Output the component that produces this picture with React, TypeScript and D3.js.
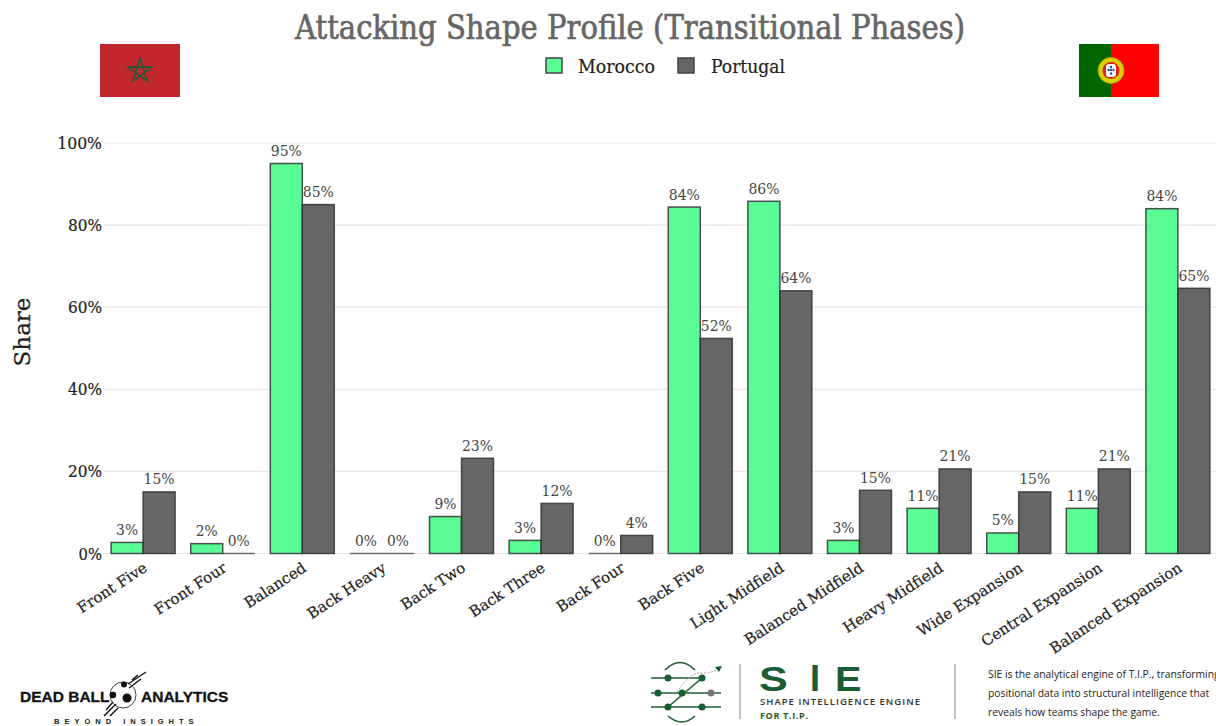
import React from "react";
import * as d3 from "d3";

const categories = ["Front Five","Front Four","Balanced","Back Heavy","Back Two","Back Three","Back Four","Back Five","Light Midfield","Balanced Midfield","Heavy Midfield","Wide Expansion","Central Expansion","Balanced Expansion"];
const morocco = [2.7,2.4,95,0,9,3.2,0,84.4,85.8,3.2,11,5,11,84];
const portugal = [15,0,85,0,23.2,12.2,4.4,52.4,64,15.4,20.6,15,20.6,64.6];
const series = [
  { name: "Morocco", values: morocco, color: "#48fd8a" },
  { name: "Portugal", values: portugal, color: "#555555" },
];
const yTicks = [0,20,40,60,80,100];
const sideNote = ["SIE is the analytical engine of T.I.P., transforming","positional data into structural intelligence that","reveals how teams shape the game."];

const SLAB = "'DejaVu Serif', serif";
const SANS = "'Open Sans', sans-serif";
const HEAVY = "'Liberation Sans', sans-serif";
const GREEN = "#1c5c34";

export default function App() {
  const W = 1216, H = 726;
  const y = d3.scaleLinear().domain([0,100]).range([553.5,143]);
  const x = d3.scaleBand().domain(categories).range([103.3,1217.7]).paddingInner(0.196).paddingOuter(0.098);
  const bw = x.bandwidth()/2;
  const star = d3.range(5).map(i => {
    const a = -Math.PI/2 + i*2*2*Math.PI/5;
    return [140+12.5*Math.cos(a), 71+12.5*Math.sin(a)];
  });
  return (
    <svg width={W} height={H} viewBox={`0 0 ${W} ${H}`} style={{position:"fixed",left:0,top:0,background:"#fff"}}>
      <text x={630} y={39} textAnchor="middle" fontFamily={SLAB} fontSize={33} fill="#666" textLength={670} lengthAdjust="spacingAndGlyphs" stroke="#666" strokeWidth={0.7}>Attacking Shape Profile (Transitional Phases)</text>

      <rect x={100} y={44} width={80} height={53} fill="#c1272d"/>
      <path d={d3.line()(star)+"Z"} fill="none" stroke="#1f5a32" strokeWidth={1.6}/>
      <rect x={1079} y={44} width={80} height={53} fill="#ff0000"/>
      <rect x={1079} y={44} width={32} height={53} fill="#006600"/>
      <circle cx={1111} cy={70.5} r={13} fill="#d8d000" stroke="#a8a400" strokeWidth={0.8}/>
      <circle cx={1111} cy={70.5} r={8.5} fill="#e02020"/>
      <rect x={1106} y={64} width={10} height={13} rx={3} fill="#fff"/>
      {[[1111,67],[1108.5,70],[1111,70],[1113.5,70],[1111,73.5]].map((p,i)=><circle key={i} cx={p[0]} cy={p[1]} r={1.2} fill="#2a4f9e"/>)}

      {series.map((s,i)=>{
        const lx = [546,678][i];
        return <g key={s.name}>
          <rect x={lx} y={58} width={16} height={15} fill={s.color} fillOpacity={0.9} stroke="#444" strokeWidth={1.5}/>
          <text x={[578,711][i]} y={72.5} fontFamily={SLAB} fontSize={18} fill="#222" stroke="#222" strokeWidth={0.2} textLength={[77,74][i]} lengthAdjust="spacingAndGlyphs">{s.name}</text>
        </g>;
      })}

      {yTicks.map(t=><g key={t}>
        <line x1={104} x2={1216} y1={y(t)} y2={y(t)} stroke="#e8e8e8" strokeWidth={1.2}/>
        <text x={102} y={y(t)+6} textAnchor="end" fontFamily={SLAB} fontSize={17} fill="#222" stroke="#222" strokeWidth={0.2} textLength={(String(t).length+1)*10.7+2} lengthAdjust="spacingAndGlyphs">{t}%</text>
      </g>)}
      <text transform={`translate(30,332) rotate(-90)`} textAnchor="middle" fontFamily={SLAB} fontSize={23} fill="#222" stroke="#222" strokeWidth={0.3}>Share</text>

      {series.map((s,si)=>s.values.map((v,i)=>{
        const bx = x(categories[i])!+si*bw;
        return <g key={s.name+i}>
          {v > 0
            ? <rect x={bx} y={y(v)} width={bw} height={y(0)-y(v)} fill={s.color} fillOpacity={0.9} stroke="#333" strokeOpacity={0.85} strokeWidth={1.5}/>
            : <line x1={bx} x2={bx+bw} y1={y(0)} y2={y(0)} stroke="#333" strokeOpacity={0.7} strokeWidth={1.3}/>}
          <text x={bx+bw/2} y={y(v)-7.5} textAnchor="middle" fontFamily={SLAB} fontSize={14.5} fill="#444" textLength={String(Math.round(v)).length*9+13} lengthAdjust="spacingAndGlyphs">{d3.format(".0f")(v)}%</text>
        </g>;
      }))}

      {categories.map(c=>{
        const cx = x(c)!+x.bandwidth()/2-1;
        return <text key={c} transform={`translate(${cx},561) rotate(-33)`} textAnchor="end" dominantBaseline="hanging" fontFamily={SLAB} fontSize={15} fill="#222" stroke="#222" strokeWidth={0.2}>{c}</text>;
      })}

      <text x={20} y={702} fontFamily={HEAVY} fontWeight={700} fontSize={15.5} fill="#111" stroke="#111" strokeWidth={0.3}>DEAD BALL</text>
      <text x={141} y={702} fontFamily={HEAVY} fontWeight={700} fontSize={15.5} fill="#111" stroke="#111" strokeWidth={0.3}>ANALYTICS</text>
      <circle cx={123} cy={695} r={13} fill="#fff" stroke="#444"/>
      <circle cx={127} cy={698} r={4.5} fill="#111"/><circle cx={113} cy={695} r={3.2} fill="#111"/><circle cx={124} cy={684.5} r={3} fill="#111"/>
      {[[104,716,116,704],[110,716,118,708],[113,702,106,710],[128,684,146,672],[129,688,141,679],[132,680,138,675]].map((l,i)=><line key={i} x1={l[0]} y1={l[1]} x2={l[2]} y2={l[3]} stroke="#111" strokeWidth={1.4}/>)}
      <text x={54} y={724} fontFamily={HEAVY} fontWeight={700} fontSize={7.5} letterSpacing={5} fill="#222">BEYOND INSIGHTS</text>

      <g stroke={GREEN} strokeWidth={1.6} fill="none">
        {[678,693,707].map((ly,i)=><line key={i} x1={651} x2={[702,721,721][i]} y1={ly} y2={ly}/>)}
        <path d="M668 707L702 678"/>
        <path d="M665 670Q680 655 695 670"/><path d="M668 716Q682 728 695 716"/>
      </g>
      <path d="M675 695Q690 672 700 673T720 668" fill="none" stroke="#999" strokeWidth={1} strokeDasharray="2 1.5"/>
      <path d="M722 666L715 667L719 672Z" fill={GREEN}/>
      {[[668,678],[702,678],[658,693],[682,693],[668,707],[702,707]].map((p,i)=><circle key={i} cx={p[0]} cy={p[1]} r={3.5} fill={GREEN}/>)}
      <circle cx={711} cy={693} r={3.5} fill="#777"/>
      <line x1={740} x2={740} y1={664} y2={719} stroke="#888"/>
      <line x1={955} x2={955} y1={664} y2={719} stroke="#888"/>
      {[["S",759,1.2],["I",810,1],["E",835,1.1]].map(([t,lx,sx])=><text key={t as string} transform={`translate(${lx},690.5) scale(${sx},1)`} fontFamily={HEAVY} fontWeight={700} fontSize={36} fill={GREEN}>{t}</text>)}
      <text x={760} y={705} fontFamily={SANS} fontSize={9.5} fontWeight={600} fill="#333" textLength={160} lengthAdjust="spacing">SHAPE INTELLIGENCE ENGINE</text>
      <text x={760} y={719} fontFamily={SANS} fontSize={9} fontWeight={700} fill={GREEN} textLength={48} lengthAdjust="spacing">FOR T.I.P.</text>
      {sideNote.map((t,i)=><text key={i} x={988} y={678+i*19} fontFamily={SANS} fontSize={10.3} fill="#222">{t}</text>)}
    </svg>
  );
}
